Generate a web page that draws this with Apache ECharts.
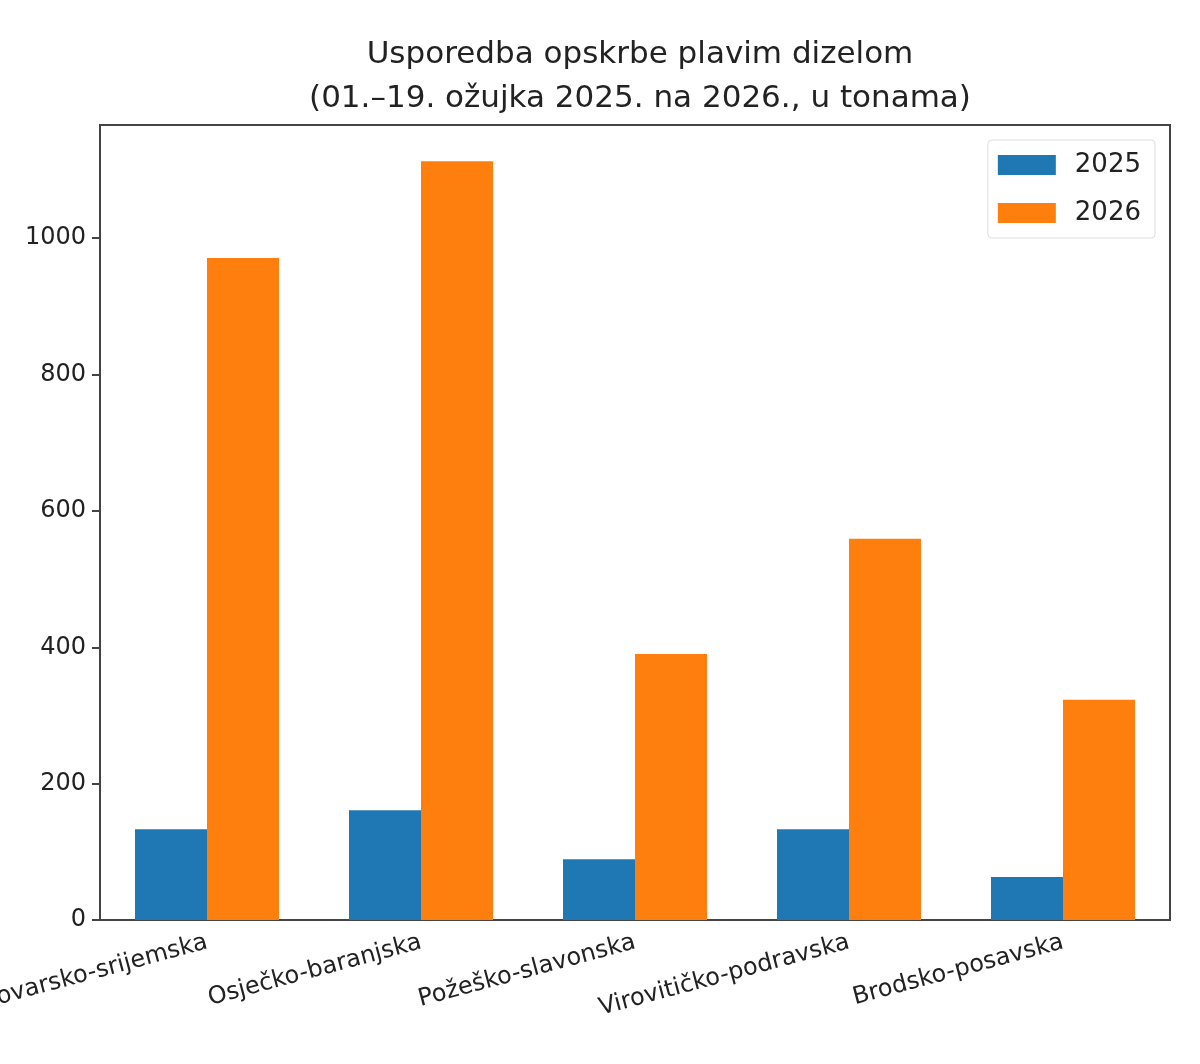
<!DOCTYPE html>
<html><head><meta charset="utf-8">
<script src="https://cdn.jsdelivr.net/npm/echarts@6/dist/echarts.min.js"></script>
<style>html,body{margin:0;background:#fff}#c{width:1200px;height:1064px}</style>
</head><body><div id="c"></div>
<script>
const categories = ['Vukovarsko-srijemska','Osječko-baranjska','Požeško-slavonska','Virovitičko-podravska','Brodsko-posavska'];
const values2025 = [133, 161, 89, 133, 63];
const values2026 = [971, 1113, 390, 559, 323];
const yTicks = [0, 200, 400, 600, 800, 1000];
const chart = echarts.init(document.getElementById('c'));
const font = 'DejaVu Sans';
chart.setOption({
  animation:false,
  textStyle:{fontFamily:font},
  title:{text:'Usporedba opskrbe plavim dizelom\n(01.–19. ožujka 2025. na 2026., u tonama)',left:635,textAlign:'center',top:28,
    textStyle:{fontFamily:font,fontSize:31,fontWeight:'normal',color:'#222',lineHeight:44}},
  legend:{top:140,right:45,orient:'vertical',itemWidth:58,itemHeight:20,itemGap:22,
    borderColor:'#ddd',borderWidth:1,borderRadius:4,padding:[12,14,12,10],
    textStyle:{fontSize:26,color:'#222',fontFamily:font,padding:[0,0,0,14]},icon:'rect',data:['2025','2026']},
  grid:{left:100,right:30,top:125,bottom:144,containLabel:false,outerBoundsMode:'none',show:true,borderColor:'#444',borderWidth:2},
  xAxis:{type:'category',data:categories,boundaryGap:true,
    axisLine:{lineStyle:{color:'#444',width:2}},
    axisTick:{alignWithLabel:true,length:8,lineStyle:{color:'#444',width:2}},
    axisLabel:{rotate:15,fontSize:24,color:'#222',margin:22,interval:0}},
  yAxis:{type:'value',min:0,max:1166,interval:200,
    axisLine:{show:true,lineStyle:{color:'#444',width:2}},
    axisTick:{show:true,length:8,lineStyle:{color:'#444',width:2}},
    splitLine:{show:false},
    axisLabel:{fontSize:24,color:'#222',margin:14,showMaxLabel:false,
      formatter:v=>yTicks.includes(v)?String(v):''}},
  series:[
    {name:'2025',type:'bar',data:values2025,barWidth:72,barGap:'0%',itemStyle:{color:'#1f77b4'}},
    {name:'2026',type:'bar',data:values2026,barWidth:72,barGap:'0%',itemStyle:{color:'#ff7f0e'}}
  ]
});
</script></body></html>
